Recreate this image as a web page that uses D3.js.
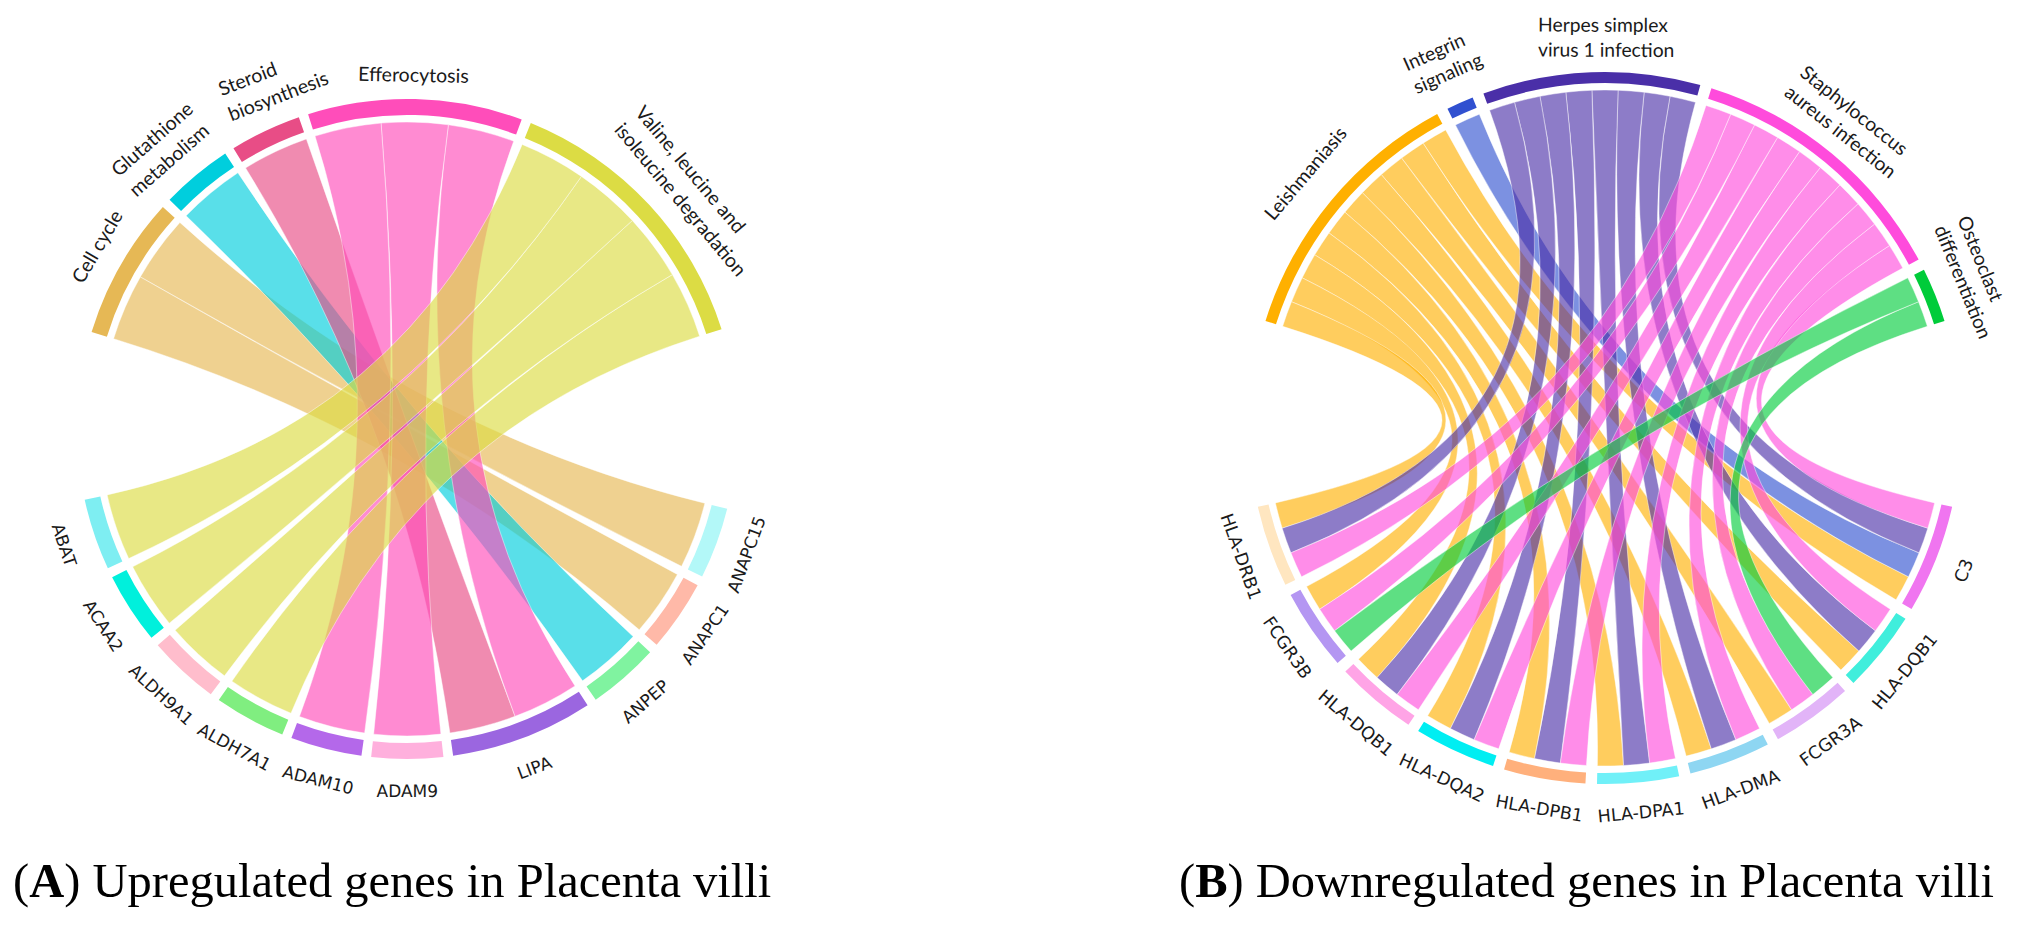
<!DOCTYPE html>
<html lang="en">
<head>
<meta charset="utf-8">
<title>Chord diagrams: genes in placenta villi</title>
<script src="https://cdn.jsdelivr.net/npm/d3@7"></script>
<style>
  body { margin: 0; background: #fff; }
  svg { display: block; }
</style>
</head>
<body>
<script>

var w = 2020;
var h = 925;

// ---- Panel A: upregulated genes ----
var pathwaysA = ["Cell cycle", "Glutathione metabolism", "Steroid biosynthesis",
                 "Efferocytosis", "Valine, leucine and isoleucine degradation"];
var pathwayLinesA = [["Cell cycle"], ["Glutathione", "metabolism"], ["Steroid", "biosynthesis"],
                     ["Efferocytosis"], ["Valine, leucine and", "isoleucine degradation"]];
var pathwayColorsA = ["#e6b855", "#00cedd", "#e84d86", "#ff4dba", "#dcdc44"];

// genes listed clockwise, starting at the right side
var genesA = ["ANAPC15", "ANAPC1", "ANPEP", "LIPA", "ADAM9", "ADAM10",
              "ALDH7A1", "ALDH9A1", "ACAA2", "ABAT"];
var geneColorsA = ["#b3f8f8", "#ffb9a8", "#80f3a0", "#9b66e0", "#ffb0dd", "#b468ea",
                   "#80ee80", "#ffbdcc", "#00f0dc", "#7eeef2"];
// pathways (index into pathwaysA) each gene belongs to
var geneSetsA = [[0], [0], [1], [2, 3], [3], [3], [4], [4], [4], [4]];

// ---- Panel B: downregulated genes ----
var pathwaysB = ["Leishmaniasis", "Integrin signaling", "Herpes simplex virus 1 infection",
                 "Staphylococcus aureus infection", "Osteoclast differentiation"];
var pathwayLinesB = [["Leishmaniasis"], ["Integrin", "signaling"], ["Herpes simplex", "virus 1 infection"],
                     ["Staphylococcus", "aureus infection"], ["Osteoclast", "differentiation"]];
var pathwayColorsB = ["#ffb000", "#3050d0", "#4a2fa8", "#ff4bdc", "#00cc3a"];

var genesB = ["C3", "HLA-DQB1", "FCGR3A", "HLA-DMA", "HLA-DPA1", "HLA-DPB1",
              "HLA-DQA2", "HLA-DQB1", "FCGR3B", "HLA-DRB1"];
var geneColorsB = ["#f075f0", "#40eedc", "#e2b4f8", "#8ed6f2", "#70f0f8", "#ffb07c",
                   "#00eef2", "#ffa4e6", "#b496f2", "#ffe6c0"];
var geneSetsB = [[0, 1, 2, 3], [0, 2, 3], [0, 3, 4], [0, 2, 3], [0, 2, 3],
                 [0, 2, 3], [0, 2, 3], [0, 2, 3], [0, 3, 4], [0, 2, 3]];

var captionA = ["A", " Upregulated genes in Placenta villi"];
var captionB = ["B", " Downregulated genes in Placenta villi"];

var deg = Math.PI / 180;

var svg = d3.select("body")
            .append("svg")
            .attr("width", w)
            .attr("height", h);

svg.append("rect").attr("width", w).attr("height", h).attr("fill", "#fff");

function drawChord(c) {
    var g = svg.append("g").attr("transform", "translate(" + c.cx + "," + c.cy + ")");

    //one link of weight 1 for every gene / pathway pair
    var links = [];
    c.geneSets.forEach(function(set, gi) {
        set.forEach(function(pi) { links.push({ p: pi, g: gi }); });
    });
    var pCount = c.pathways.map(function(d, i) { return links.filter(function(l) { return l.p === i; }).length; });
    var gCount = c.genes.map(function(d, i) { return links.filter(function(l) { return l.g === i; }).length; });

    //sector angles (degrees, clockwise from 12 o'clock) on one side of the circle
    function layout(counts, range) {
        var total = d3.sum(counts);
        var unit = d3.scaleLinear()
                     .domain([0, total])
                     .range([0, (range[1] - range[0]) - c.gap * (counts.length - 1)]);
        var cum = 0;
        return counts.map(function(n, i) {
            var a0 = range[0] + unit(cum) + i * c.gap;
            cum += n;
            return { start: a0, end: range[0] + unit(cum) + i * c.gap, step: unit(1) };
        });
    }
    var pSec = layout(pCount, c.top);
    var gSec = layout(gCount, c.bottom);

    //nested slots so that links from one sector do not twist
    pSec.forEach(function(s, pi) {
        links.filter(function(l) { return l.p === pi; })
             .sort(function(a, b) { return b.g - a.g; })
             .forEach(function(l, k) { l.s0 = s.start + k * s.step; l.s1 = l.s0 + s.step; });
    });
    gSec.forEach(function(s, gi) {
        links.filter(function(l) { return l.g === gi; })
             .sort(function(a, b) { return b.p - a.p; })
             .forEach(function(l, k) { l.t0 = s.start + k * s.step; l.t1 = l.t0 + s.step; });
    });

    var ribbon = d3.ribbon().radius(c.rRibbon);
    g.selectAll("path.link")
     .data(links)
     .enter()
     .append("path")
     .attr("class", "link")
     .attr("d", function(l) {
         return ribbon({ source: { startAngle: l.s0 * deg, endAngle: l.s1 * deg },
                         target: { startAngle: l.t0 * deg, endAngle: l.t1 * deg } });
     })
     .attr("fill", function(l) { return c.pathwayColors[l.p]; })
     .attr("fill-opacity", c.opacity)
     .attr("stroke", "#fff")
     .attr("stroke-width", 0.8)
     .attr("stroke-opacity", 0.55);

    var arc = d3.arc().innerRadius(c.rIn).outerRadius(c.rOut);
    g.selectAll("path.ptrack")
     .data(pSec)
     .enter()
     .append("path")
     .attr("class", "ptrack")
     .attr("d", function(s) { return arc({ startAngle: s.start * deg, endAngle: s.end * deg }); })
     .attr("fill", function(s, i) { return c.pathwayColors[i]; });
    g.selectAll("path.gtrack")
     .data(gSec)
     .enter()
     .append("path")
     .attr("class", "gtrack")
     .attr("d", function(s) { return arc({ startAngle: s.start * deg, endAngle: s.end * deg }); })
     .attr("fill", function(s, i) { return c.geneColors[i]; });

    //pathway labels: tangential, lines left aligned inside the block
    pSec.forEach(function(s, i) {
        var lines = c.pathwayLines[i];
        var n = lines.length;
        var mid = (s.start + s.end) / 2 + c.labelTurn[i];
        var r = (n === 1 ? c.rSingle : c.rInner) + c.labelPush[i];
        var lab = g.append("g")
                   .attr("transform", "rotate(" + mid + ") translate(0," + (-r) + ")");
        var texts = lines.map(function(t, j) {
            return lab.append("text")
                      .attr("y", -(n - 1 - j) * c.lineH)
                      .attr("dy", "0.35em")
                      .attr("font-family", "Lato, 'Open Sans', sans-serif")
                      .attr("font-size", c.pathSize + "px")
                      .attr("fill", "#1a1a1a")
                      .text(t);
        });
        var maxW = d3.max(texts, function(t) { return t.node().getComputedTextLength(); });
        texts.forEach(function(t) { t.attr("x", -maxW / 2); });
    });

    //gene labels, turned so they read upright
    gSec.forEach(function(s, i) {
        var mid = (s.start + s.end) / 2;
        g.append("text")
         .attr("transform", "rotate(" + mid + ") translate(0," + (-c.rGene) + ") rotate(180)")
         .attr("text-anchor", "middle")
         .attr("dy", "0.35em")
         .attr("font-family", "'DejaVu Sans', Verdana, sans-serif")
         .attr("font-size", c.geneSize + "px")
         .attr("fill", "#1a1a1a")
         .text(c.genes[i]);
    });
}

drawChord({
    cx: 407, cy: 429, rOut: 330, rIn: 314, rRibbon: 307, gap: 1.7,
    top: [-72.9, 72.4], bottom: [104, 257.6],
    pathways: pathwaysA, pathwayLines: pathwayLinesA, pathwayColors: pathwayColorsA,
    genes: genesA, geneColors: geneColorsA, geneSets: geneSetsA,
    opacity: 0.65, pathSize: 19.5, lineH: 27, rSingle: 357, rInner: 357,
    labelTurn: [0.8, -1.6, 4.3, -0.4, 2.8], labelPush: [2.5, 2, 0, -3, 0],
    geneSize: 17, rGene: 362
});

drawChord({
    cx: 1605, cy: 428, rOut: 356, rIn: 345, rRibbon: 338, gap: 1.86,
    top: [-72.5, 72.5], bottom: [102.8, 257.2],
    pathways: pathwaysB, pathwayLines: pathwayLinesB, pathwayColors: pathwayColorsB,
    genes: genesB, geneColors: geneColorsB, geneSets: geneSetsB,
    opacity: 0.63, pathSize: 19.3, lineH: 25, rSingle: 393, rInner: 382,
    labelTurn: [0.7, 0.15, 2.4, -1.1, -0.25], labelPush: [0, 6, -4, -3.4, 4.6],
    geneSize: 17.5, rGene: 386
});

//captions
function caption(x, parts) {
    var t = svg.append("text")
               .attr("x", x)
               .attr("y", 897)
               .attr("font-family", "'Liberation Serif', 'DejaVu Serif', serif")
               .attr("font-size", "48.5px")
               .attr("fill", "#000");
    t.append("tspan").text("(");
    t.append("tspan").attr("font-weight", "bold").text(parts[0]);
    t.append("tspan").text(")" + parts[1]);
}
caption(13, captionA);
caption(1179, captionB);

</script>
</body>
</html>
